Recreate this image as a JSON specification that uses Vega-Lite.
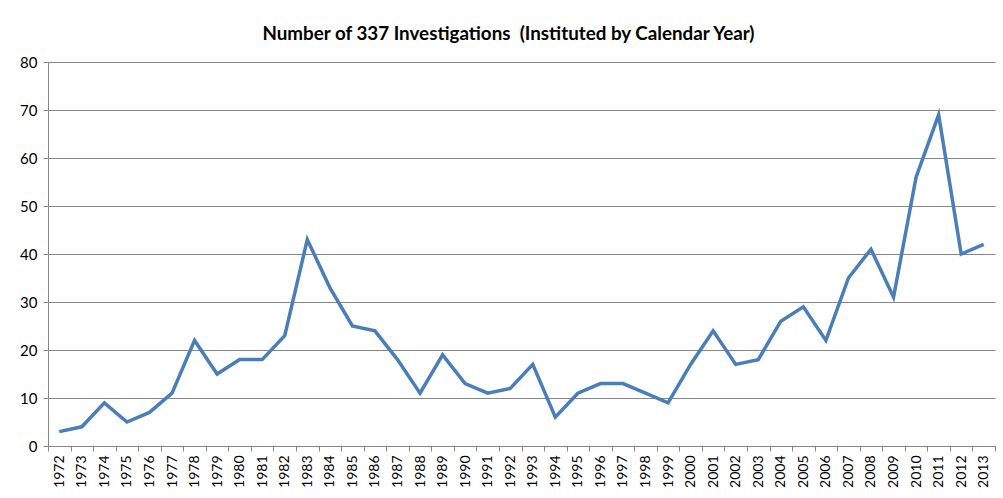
{
  "$schema": "https://vega.github.io/schema/vega-lite/v6.json",
  "width": 947,
  "height": 384,
  "autosize": {"type": "none"},
  "padding": {"left": 48, "top": 62, "right": 8, "bottom": 52},
  "background": "white",
  "title": {
    "text": "Number of 337 Investigations \u00a0(Instituted by Calendar Year)",
    "font": "Lato",
    "fontSize": 18.8,
    "fontWeight": "bold",
    "color": "#000000",
    "anchor": "middle",
    "frame": "group",
    "offset": 11,
    "dx": -13
  },
  "config": {
    "view": {"stroke": null},
    "axis": {"labelFont": "Lato", "labelColor": "#000000"}
  },
  "data": {
    "values": [
      {"year": "1972", "count": 3}, {"year": "1973", "count": 4}, {"year": "1974", "count": 9},
      {"year": "1975", "count": 5}, {"year": "1976", "count": 7}, {"year": "1977", "count": 11},
      {"year": "1978", "count": 22}, {"year": "1979", "count": 15}, {"year": "1980", "count": 18},
      {"year": "1981", "count": 18}, {"year": "1982", "count": 23}, {"year": "1983", "count": 43},
      {"year": "1984", "count": 33}, {"year": "1985", "count": 25}, {"year": "1986", "count": 24},
      {"year": "1987", "count": 18}, {"year": "1988", "count": 11}, {"year": "1989", "count": 19},
      {"year": "1990", "count": 13}, {"year": "1991", "count": 11}, {"year": "1992", "count": 12},
      {"year": "1993", "count": 17}, {"year": "1994", "count": 6}, {"year": "1995", "count": 11},
      {"year": "1996", "count": 13}, {"year": "1997", "count": 13}, {"year": "1998", "count": 11},
      {"year": "1999", "count": 9}, {"year": "2000", "count": 17}, {"year": "2001", "count": 24},
      {"year": "2002", "count": 17}, {"year": "2003", "count": 18}, {"year": "2004", "count": 26},
      {"year": "2005", "count": 29}, {"year": "2006", "count": 22}, {"year": "2007", "count": 35},
      {"year": "2008", "count": 41}, {"year": "2009", "count": 31}, {"year": "2010", "count": 56},
      {"year": "2011", "count": 69}, {"year": "2012", "count": 40}, {"year": "2013", "count": 42}
    ]
  },
  "mark": {"type": "line", "color": "#4A7EBB", "strokeWidth": 3.5, "strokeJoin": "miter"},
  "encoding": {
    "x": {
      "field": "year",
      "type": "ordinal",
      "bandPosition": 0.5,
      "scale": {"type": "band", "paddingInner": 0, "paddingOuter": 0},
      "axis": {
        "title": null,
        "labelAngle": 270,
        "labelAlign": "right",
        "labelBaseline": "middle",
        "labelFontSize": 14,
        "labelPadding": 4,
        "tickBand": "extent",
        "ticks": true,
        "tickSize": 5,
        "tickColor": "#868686",
        "domainColor": "#868686",
        "grid": false
      }
    },
    "y": {
      "field": "count",
      "type": "quantitative",
      "scale": {"domain": [0, 80], "nice": false},
      "axis": {
        "title": null,
        "values": [0, 10, 20, 30, 40, 50, 60, 70, 80],
        "labelFontSize": 15,
        "labelPadding": 6,
        "tickSize": 5,
        "tickColor": "#868686",
        "domainColor": "#868686",
        "grid": true,
        "gridColor": "#868686",
        "gridWidth": 1
      }
    }
  }
}
